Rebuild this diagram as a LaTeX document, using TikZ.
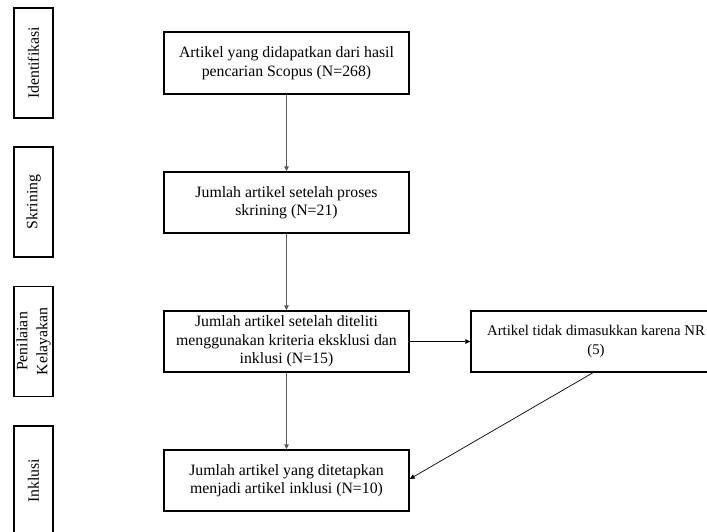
\documentclass[tikz,border=0pt]{standalone}
\usepackage{fontspec}
\setmainfont{Liberation Serif}
\usetikzlibrary{arrows.meta,calc}
\begin{document}
\begin{tikzpicture}[x=1pt,y=-1pt,
  mainbox/.style={draw=black,line width=1.4pt,minimum width=245pt,minimum height=61pt,align=center,inner sep=0pt,font=\fontsize{15.8}{18.5}\selectfont},
  sidebox/.style={draw=black,line width=1.4pt,minimum width=110pt,minimum height=39pt,align=center,inner sep=0pt,rotate=90,font=\fontsize{15.8}{20}\selectfont},
  vline/.style={draw=black!65,line width=1.1pt,-{Triangle[length=5pt,width=4.5pt]}},
  thinline/.style={draw=black,line width=0.7pt,-{Triangle[length=5pt,width=4.5pt]}}]
\useasboundingbox (0,0) rectangle (707,531);
\node[sidebox] (s1) at (33.5,63) {Identifikasi};
\node[sidebox] (s2) at (33.5,202) {Skrining};
\node[sidebox] (s3) at (33.5,341.5) {Penilaian\\Kelayakan};
\node[sidebox] (s4) at (33.5,481) {Inklusi};
\node[mainbox,minimum height=62pt] (b1) at (286.5,63) {Artikel yang didapatkan dari hasil\\pencarian Scopus (N=268)};
\node[mainbox] (b2) at (286.5,202.5) {Jumlah artikel setelah proses\\skrining (N=21)};
\node[mainbox] (b3) at (286.5,341.5) {Jumlah artikel setelah diteliti\\menggunakan kriteria eksklusi dan\\inklusi (N=15)};
\node[mainbox] (b4) at (286.5,480.5) {Jumlah artikel yang ditetapkan\\menjadi artikel inklusi (N=10)};
\node[mainbox,minimum width=250pt,font=\fontsize{14.8}{18.5}\selectfont] (r) at (596,341.5) {Artikel tidak dimasukkan karena NR\\(5)};
\coordinate (rs) at ($(r.south)+(-3,0)$);
\coordinate (b4e) at ($(b4.east)+(0,-1.5)$);
\draw[vline] (b1.south) -- (b2.north);
\draw[vline] (b2.south) -- (b3.north);
\draw[vline] (b3.south) -- (b4.north);
\draw[thinline] (b3.east) -- (r.west);
\draw[thinline] (rs) -- (b4e);
\end{tikzpicture}
\end{document}
